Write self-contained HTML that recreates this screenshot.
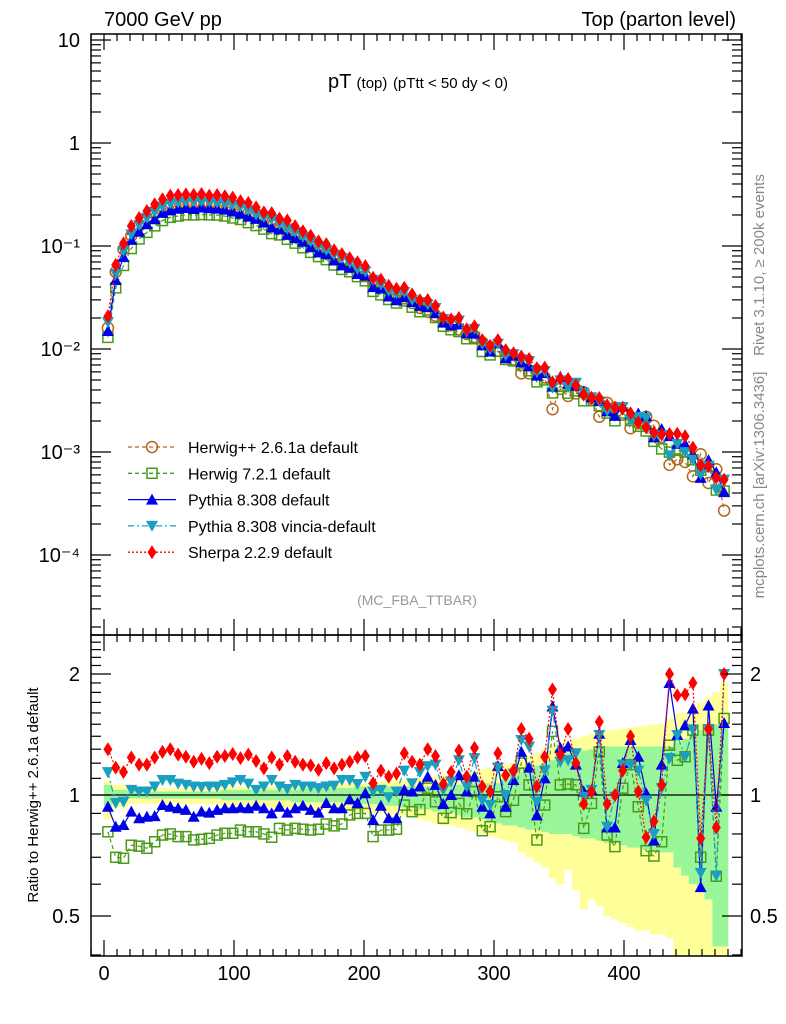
<!DOCTYPE html>
<html><head><meta charset="utf-8">
<style>
html,body{margin:0;padding:0;background:#fff;}
svg{display:block;font-family:"Liberation Sans",sans-serif;}
</style></head>
<body>
<svg id="chart" width="786" height="1024" viewBox="0 0 786 1024" xmlns="http://www.w3.org/2000/svg">
<g id="bands"></g>
<g id="marks"></g>
<g id="axes"></g>
<text x="104" y="26" font-size="20">7000 GeV pp</text>
<text x="736" y="26" font-size="20" text-anchor="end">Top (parton level)</text>
<text x="418" y="88" font-size="20" text-anchor="middle">pT <tspan font-size="15">(top)</tspan> <tspan font-size="15">(pTtt &lt; 50 dy &lt; 0)</tspan></text>
<text x="417" y="605" font-size="14" fill="#999" text-anchor="middle">(MC_FBA_TTBAR)</text>
<text transform="translate(764,265) rotate(-90)" font-size="15" fill="#888" text-anchor="middle">Rivet 3.1.10, ≥ 200k events</text>
<text transform="translate(764,485) rotate(-90)" font-size="15" fill="#888" text-anchor="middle">mcplots.cern.ch [arXiv:1306.3436]</text>
<text transform="translate(38,795) rotate(-90)" font-size="15" text-anchor="middle">Ratio to Herwig++ 2.6.1a default</text>
<g id="legend"></g>
</svg>
<script>
const binCenters=[3,9,15,21,27,33,39,45,51,57,63,69,75,81,87,93,99,105,111,117,123,129,135,141,147,153,159,165,171,177,183,189,195,201,207,213,219,225,231,237,243,249,255,261,267,273,279,285,291,297,303,309,315,321,327,333,339,345,351,357,363,369,375,381,387,393,399,405,411,417,423,429,435,441,447,453,459,465,471,477];
const herwigpp=[0.016,0.056,0.093,0.126,0.157,0.184,0.205,0.222,0.237,0.248,0.255,0.259,0.260,0.257,0.251,0.243,0.233,0.221,0.208,0.195,0.182,0.168,0.155,0.142,0.129,0.117,0.106,0.096,0.087,0.078,0.070,0.063,0.056,0.051,0.046,0.041,0.037,0.034,0.031,0.028,0.025,0.023,0.021,0.019,0.017,0.0155,0.014,0.0127,0.0116,0.0105,0.0096,0.0087,0.0079,0.0058,0.0058,0.0062,0.0053,0.0026,0.0041,0.0035,0.0037,0.0038,0.0033,0.0022,0.0030,0.0027,0.0023,0.0017,0.0019,0.0022,0.0018,0.0014,0.00075,0.00085,0.00080,0.00058,0.00095,0.00050,0.00068,0.00027];
const ratioHerwig7=[0.81,0.70,0.696,0.75,0.746,0.737,0.765,0.795,0.80,0.788,0.788,0.773,0.776,0.78,0.795,0.803,0.803,0.818,0.81,0.81,0.80,0.785,0.826,0.818,0.826,0.822,0.818,0.822,0.847,0.838,0.847,0.892,0.90,0.90,0.788,0.818,0.818,0.822,0.944,0.909,0.92,1.04,0.962,0.875,0.904,0.953,0.898,1.02,0.815,0.834,0.99,0.909,0.97,1.20,1.06,0.773,0.944,1.44,1.06,1.065,1.06,0.826,0.953,1.28,0.795,0.744,1.04,1.19,0.935,0.727,0.705,0.765,1.33,1.22,1.245,1.45,0.70,1.45,0.628,1.55];
const ratioPythia=[0.935,0.834,0.842,0.909,0.875,0.883,0.886,0.944,0.935,0.927,0.918,0.883,0.909,0.904,0.918,0.927,0.927,0.93,0.927,0.94,0.927,0.90,0.935,0.904,0.927,0.94,0.918,0.904,0.955,0.927,0.927,0.975,0.955,1.01,0.866,0.94,0.875,0.875,1.03,1.02,1.05,1.11,1.06,0.95,1.0,1.12,1.02,1.11,0.935,0.90,1.18,0.935,1.09,1.28,1.17,0.89,1.10,1.66,1.31,1.32,1.19,1.02,1.03,1.42,0.83,0.83,1.20,1.37,1.245,1.01,0.77,1.19,1.90,1.41,1.49,1.64,0.59,1.67,0.935,1.51];
const ratioVincia=[1.14,0.955,0.962,1.03,1.02,1.02,1.05,1.09,1.09,1.067,1.06,1.05,1.047,1.05,1.05,1.06,1.075,1.09,1.067,1.03,1.05,1.09,1.05,1.035,1.06,1.05,1.05,1.04,1.05,1.055,1.09,1.09,1.065,1.11,1.02,1.03,0.987,1.02,1.15,1.07,1.14,1.18,1.19,1.03,1.08,1.22,1.05,1.235,0.97,0.944,1.17,1.0,1.13,1.37,1.32,0.962,1.15,1.62,1.21,1.22,1.27,0.99,1.03,1.41,0.834,0.99,1.19,1.19,1.15,0.97,0.80,1.04,1.235,1.41,1.245,1.45,0.64,1.46,0.63,2.0];
const ratioSherpa=[1.30,1.17,1.14,1.24,1.19,1.19,1.24,1.28,1.30,1.26,1.245,1.21,1.23,1.20,1.245,1.25,1.265,1.235,1.26,1.215,1.165,1.24,1.19,1.25,1.21,1.19,1.185,1.155,1.20,1.165,1.19,1.21,1.24,1.25,1.07,1.15,1.11,1.13,1.27,1.21,1.19,1.30,1.25,1.065,1.14,1.29,1.11,1.31,1.05,1.02,1.27,1.12,1.15,1.46,1.38,1.05,1.245,1.83,1.26,1.46,1.20,0.95,1.02,1.52,0.95,1.0,1.15,1.40,1.02,0.785,0.86,1.06,2.0,1.77,1.78,1.90,0.78,1.46,0.83,2.0];
const yellowUp=[1.08,1.06,1.06,1.04,1.04,1.04,1.04,1.04,1.04,1.04,1.04,1.04,1.04,1.04,1.04,1.05,1.05,1.05,1.05,1.05,1.05,1.05,1.05,1.05,1.06,1.06,1.06,1.06,1.06,1.06,1.07,1.07,1.07,1.07,1.08,1.08,1.08,1.09,1.09,1.10,1.10,1.11,1.11,1.12,1.12,1.13,1.14,1.15,1.16,1.17,1.18,1.19,1.20,1.22,1.25,1.27,1.30,1.33,1.35,1.36,1.38,1.40,1.42,1.44,1.45,1.45,1.46,1.47,1.48,1.49,1.50,1.50,1.55,1.60,1.60,1.62,1.70,1.75,1.80,1.90];
const yellowDn=[0.87,0.93,0.93,0.95,0.95,0.95,0.95,0.95,0.95,0.95,0.95,0.95,0.95,0.95,0.95,0.94,0.94,0.94,0.94,0.94,0.94,0.93,0.93,0.93,0.93,0.93,0.92,0.92,0.92,0.92,0.91,0.91,0.91,0.90,0.90,0.90,0.89,0.89,0.89,0.88,0.87,0.86,0.85,0.84,0.84,0.83,0.82,0.81,0.80,0.79,0.78,0.77,0.76,0.72,0.70,0.68,0.66,0.62,0.60,0.65,0.58,0.52,0.55,0.53,0.50,0.49,0.48,0.47,0.46,0.46,0.45,0.45,0.44,0.3,0.3,0.3,0.3,0.3,0.3,0.3];
const greenUp=[1.06,1.03,1.03,1.02,1.02,1.02,1.02,1.02,1.02,1.02,1.02,1.02,1.02,1.02,1.02,1.03,1.03,1.03,1.03,1.03,1.03,1.03,1.03,1.03,1.03,1.04,1.04,1.04,1.04,1.04,1.04,1.04,1.05,1.05,1.05,1.05,1.05,1.05,1.05,1.05,1.05,1.05,1.06,1.06,1.06,1.06,1.06,1.07,1.07,1.07,1.07,1.10,1.12,1.14,1.16,1.18,1.20,1.22,1.25,1.27,1.28,1.29,1.30,1.31,1.32,1.32,1.32,1.32,1.32,1.32,1.32,1.32,1.32,1.35,1.38,1.42,1.45,1.50,1.50,1.50];
const greenDn=[0.94,0.97,0.97,0.98,0.98,0.98,0.98,0.98,0.98,0.98,0.98,0.98,0.98,0.98,0.98,0.97,0.97,0.97,0.97,0.97,0.97,0.97,0.97,0.97,0.96,0.96,0.96,0.96,0.96,0.96,0.96,0.95,0.95,0.95,0.95,0.94,0.94,0.94,0.93,0.93,0.92,0.92,0.91,0.91,0.90,0.89,0.88,0.88,0.87,0.86,0.85,0.84,0.84,0.83,0.82,0.82,0.81,0.80,0.80,0.80,0.79,0.78,0.78,0.77,0.76,0.76,0.75,0.74,0.74,0.73,0.73,0.72,0.72,0.66,0.63,0.60,0.58,0.55,0.42,0.42];
const xTicks=[0,100,200,300,400];
const yDecades=[10,1,0.1,0.01,0.001,0.0001];
const yDecadeLabels=["10","1","10\u207B\u00B9","10\u207B\u00B2","10\u207B\u00B3","10\u207B\u2074"];
const ratioTicks=[2,1,0.5];
const ratioTickLabels=["2","1","0.5"];

const NS="http://www.w3.org/2000/svg";
const L=91,R=742,T=34,MB=635,RB=956,BW=6;
function xs(v){return 104+1.3*v;}
function ym(v){return 40+(1-Math.log10(v))*103;}
function yr(v){return 795-121*Math.log2(v);}
function el(tag,attrs,parent){const e=document.createElementNS(NS,tag);for(const k in attrs)e.setAttribute(k,attrs[k]);parent.appendChild(e);return e;}
const bands=document.getElementById('bands'),marks=document.getElementById('marks'),axes=document.getElementById('axes'),legend=document.getElementById('legend');

for(let i=0;i<binCenters.length;i++){
  const x0=xs(binCenters[i]-BW/2),x1=xs(binCenters[i]+BW/2);
  const yt=Math.max(MB,yr(yellowUp[i])),yb=Math.min(RB,yr(yellowDn[i]));
  const b1=el('rect',{x:x0,y:yt,width:x1-x0+0.3,height:yb-yt,fill:'#ffff99'},bands);
  
  
  const gb=Math.min(RB,yr(greenDn[i])),gt=Math.max(MB,yr(greenUp[i]));
  const b2=el('rect',{x:x0,y:gt,width:x1-x0+0.3,height:gb-gt,fill:'#99f599'},bands);
  
  
}

function marker(kind,x,y,color,g){
  let m;
  if(kind==='circle')m=el('circle',{cx:x,cy:y,r:5.5,fill:'none',stroke:color,'stroke-width':1.5},g);
  else if(kind==='square')m=el('rect',{x:x-5,y:y-5,width:10,height:10,fill:'none',stroke:color,'stroke-width':1.5},g);
  else if(kind==='up')m=el('polygon',{points:`${x},${y-6} ${x-6},${y+5} ${x+6},${y+5}`,fill:color},g);
  else if(kind==='down')m=el('polygon',{points:`${x},${y+6} ${x-6},${y-5} ${x+6},${y-5}`,fill:color},g);
  else m=el('polygon',{points:`${x},${y-7} ${x-4.5},${y} ${x},${y+7} ${x+4.5},${y}`,fill:color},g);
  return m;
}
const series=[
 {name:'herwigpp',label:'Herwig++ 2.6.1a default',ratio:null,color:'#b5651d',kind:'circle',dash:'4,3'},
 {name:'herwig7',label:'Herwig 7.2.1 default',ratio:ratioHerwig7,color:'#4a9a1a',kind:'square',dash:'4,3'},
 {name:'pythia',label:'Pythia 8.308 default',ratio:ratioPythia,color:'#0000e6',kind:'up',dash:''},
 {name:'vincia',label:'Pythia 8.308 vincia-default',ratio:ratioVincia,color:'#1a9fc0',kind:'down',dash:'6,3,2,3'},
 {name:'sherpa',label:'Sherpa 2.2.9 default',ratio:ratioSherpa,color:'#ff0000',kind:'diamond',dash:'2,2'}
];
const defs=el('defs',{},document.getElementById('chart'));
const c1=el('clipPath',{id:'cm'},defs);el('rect',{x:L,y:T,width:R-L,height:MB-T},c1);
const c2=el('clipPath',{id:'cr'},defs);el('rect',{x:L,y:MB,width:R-L,height:RB-MB},c2);
el('line',{x1:L,y1:yr(1),x2:R,y2:yr(1),stroke:'#000','stroke-width':1.3},marks);

series.forEach(s=>{
  const gm=el('g',{'clip-path':'url(#cm)'},marks);
  
  
  const vals=herwigpp.map((v,i)=>s.ratio?v*s.ratio[i]:v);
  const pts=binCenters.map((c,i)=>xs(c)+','+ym(vals[i])).join(' ');
  el('polyline',{points:pts,fill:'none',stroke:s.color,'stroke-width':1.2,'stroke-dasharray':s.dash},gm);
  binCenters.forEach((c,i)=>{const m=marker(s.kind,xs(c),ym(vals[i]),s.color,gm);
    
    });
  if(s.ratio){
    const gr=el('g',{'clip-path':'url(#cr)'},marks);
    
    
    const rp=binCenters.map((c,i)=>xs(c)+','+yr(s.ratio[i])).join(' ');
    el('polyline',{points:rp,fill:'none',stroke:s.color,'stroke-width':1.2,'stroke-dasharray':s.dash},gr);
    binCenters.forEach((c,i)=>{const m=marker(s.kind,xs(c),yr(s.ratio[i]),s.color,gr);
      
      });
  }
});

el('rect',{x:L,y:T,width:R-L,height:MB-T,fill:'none',stroke:'#000','stroke-width':1.5},axes);
el('rect',{x:L,y:MB,width:R-L,height:RB-MB,fill:'none',stroke:'#000','stroke-width':1.5},axes);
for(let v=-10;v<=490;v+=10){
  const x=xs(v); if(x<L||x>R)continue;
  const major=v%100===0, len=major?16:7;
  [T,MB,RB].forEach(y0=>{
    if(y0===T||y0===RB) el('line',{x1:x,y1:y0,x2:x,y2:y0+(y0===T?len:-len),stroke:'#000','stroke-width':1.2},axes);
    else {el('line',{x1:x,y1:y0,x2:x,y2:y0-len,stroke:'#000','stroke-width':1.2},axes);el('line',{x1:x,y1:y0,x2:x,y2:y0+len,stroke:'#000','stroke-width':1.2},axes);}
  });
}
xTicks.forEach(v=>{const t=el('text',{x:xs(v),y:980,'font-size':20,'text-anchor':'middle'},axes);t.textContent=v;
  
  });
for(let d=-5;d<=1;d++){
  for(let k=1;k<10;k++){
    const v=k*Math.pow(10,d),y=ym(v); if(y<T||y>MB)continue;
    const len=k===1?20:10;
    el('line',{x1:L,y1:y,x2:L+len,y2:y,stroke:'#000','stroke-width':1.2},axes);
    el('line',{x1:R,y1:y,x2:R-len,y2:y,stroke:'#000','stroke-width':1.2},axes);
  }
}
yDecades.forEach((v,i)=>{const t=el('text',{x:80,y:ym(v)+7,'font-size':20,'text-anchor':'end'},axes);t.textContent=yDecadeLabels[i];
  
  });
for(let v=0.4;v<=2.6;v+=0.1){
  const y=yr(v); if(y<MB||y>RB)continue;
  const major=Math.abs(v-0.5)<1e-6||Math.abs(v-1)<1e-6||Math.abs(v-2)<1e-6, len=major?20:10;
  el('line',{x1:L,y1:y,x2:L+len,y2:y,stroke:'#000','stroke-width':1.2},axes);
  el('line',{x1:R,y1:y,x2:R-len,y2:y,stroke:'#000','stroke-width':1.2},axes);
}
ratioTicks.forEach((v,i)=>{
  const t=el('text',{x:80,y:yr(v)+7,'font-size':20,'text-anchor':'end'},axes);t.textContent=ratioTickLabels[i];
  
  
  const t2=el('text',{x:750,y:yr(v)+7,'font-size':20},axes);t2.textContent=ratioTickLabels[i];
  
  
});
series.forEach((s,i)=>{
  const y=447+i*26.3;
  const g=el('g',{},legend);
  
  
  el('line',{x1:128,y1:y,x2:176,y2:y,stroke:s.color,'stroke-width':1.3,'stroke-dasharray':s.dash},g);
  marker(s.kind,152,y,s.color,g);
  const t=el('text',{x:188,y:y+6,'font-size':16},g);t.textContent=s.label;
});
</script>
</body></html>
